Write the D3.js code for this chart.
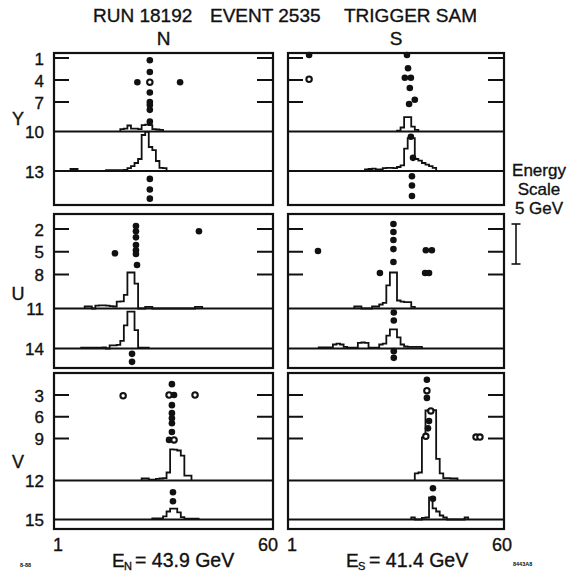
<!DOCTYPE html>
<html>
<head>
<meta charset="utf-8">
<script src="https://cdn.jsdelivr.net/npm/d3@7"></script>
<style>
body { margin: 0; background: #fff; }
svg text { font-family: "Liberation Sans", Arial, sans-serif; fill: #111; stroke: #111; stroke-width: 0.35px; }
svg text.mark { stroke: none; }
</style>
</head>
<body>
<script>
var W = 580, H = 576;

// ---------- data ----------
var header = ["RUN 18192", "EVENT 2535", "TRIGGER SAM"];
var sides = ["N", "S"];
var views = ["Y", "U", "V"];
var firstPlane = [1, 2, 3];          // first tick label of each view
var channelRange = [1, 60];
var energies = ["43.9", "41.4"];
var scaleGeV = 5;

// hits : [channel, plane, hollow]
var hitsYN = [[26.8,1.3],[26.8,2.9],[26.8,4.3,1],[26.8,5.7],[26.8,7.0],[26.8,7.3],[26.8,7.8],[26.8,9.0],
  [23.3,4.3],[35.3,4.3],[26.8,13.6],[26.8,14.4],[26.8,15.1]];
var hitsYS = [[5.8,0.6],[5.8,3.9,1],[33.3,0.6],[33.6,2.4],[32.7,3.7],[34.4,3.7],[34.1,5.1],[35.5,6.7],[33.9,7.2],
  [34.4,10.4],[35.0,12.0],[34.7,13.4],[34.7,14.1],[34.7,14.9]];
var hitsUN = [[22.9,1.6],[22.9,2.3],[22.9,3.1],[22.9,4.1],[22.9,4.8],[22.9,5.3],[23.2,6.75],
  [17.0,5.2],[40.6,2.3],[21.8,14.4],[21.8,15.0]];
var hitsUS = [[29.5,1.35],[29.5,2.4],[29.5,3.45],[29.5,4.65],[29.5,6.35],[8.3,4.9],[25.7,7.8],
  [38.6,4.8],[40.3,4.8],[38.4,7.8],[39.5,7.8],[29.6,11.3],[29.6,11.9],[29.6,14.2],[29.6,14.7]];
var hitsVN = [[33.0,1.5],[32.2,3.0,1],[33.6,3.0],[33.0,4.4],[33.0,5.5],[33.0,6.2],[33.0,6.9],[33.0,8.1],
  [32.2,9.1],[33.6,9.1,1],[19.3,3.1,1],[39.5,3.0,1],[33.3,12.9],[33.3,13.6]];
var hitsVS = [[38.9,0.9],[38.9,2.4,1],[38.9,3.4],[40.0,5.2,1],[39.5,6.6],[39.2,7.6],[38.6,8.7,1],
  [52.7,8.8,1],[53.8,8.8,1],[40.6,12.6],[40.6,13.4]];

// shower energy per channel : [channel, GeV]
var showerYN1 = [[19,.3],[20,.35],[21,.75],[22,.35],[23,.35],[24,.3],[25,.8],[26,.85],[27,.8],[28,.3],[29,.25],[30,.2]];
var showerYN2 = [[5,.25],[6,.25],[15,.12],[16,.12],[17,.12],[18,.12],[19,.12],[20,.15],[21,.35],[22,.6],[23,1.0],
  [24,1.5],[25,4.5],[26,4.9],[27,3.0],[28,2.6],[29,1.25],[30,.4],[31,.35]];
var showerYS1 = [[31,.1],[32,.5],[33,1.8],[34,1.8],[35,.6],[36,.2]];
var showerYS2 = [[22,.2],[23,.25],[24,.3],[25,.2],[26,.2],[27,.35],[28,.4],[29,.4],[30,.35],[31,.5],[32,.7],
  [33,2.8],[34,4.1],[35,4.1],[36,1.5],[37,1.3],[38,1.0],[39,.8],[40,.6],[41,.4]];
var showerUN1 = [[9,.25],[10,.25],[12,.35],[13,.4],[14,.4],[15,.35],[16,.3],[17,.25],[18,.85],[19,.9],[20,1.7],
  [21,4.5],[22,4.5],[23,3.1],[26,.2],[27,.2],[40,.2],[41,.2]];
var showerUN2 = [[8,.12],[9,.12],[10,.12],[11,.12],[12,.12],[13,.12],[14,.15],[16,.4],[17,.4],[18,.45],[19,.95],
  [20,2.9],[21,4.6],[22,4.6],[23,2.3],[24,.12],[25,.12],[26,.12]];
var showerUS1 = [[19,.25],[20,.25],[24,.25],[25,.25],[26,.5],[27,.7],[28,2.9],[29,4.5],[30,4.5],[31,1.0],[32,.85],
  [33,.8],[34,.8],[35,.2]];
var showerUS2 = [[9,.15],[10,.15],[11,.15],[12,.15],[13,.5],[14,.6],[15,.5],[16,.2],[17,.12],[18,.12],[19,.12],
  [20,.7],[21,.75],[22,.7],[23,.12],[24,.12],[25,.12],[26,.5],[27,.6],[28,1.6],[29,2.4],[30,2.4],[31,1.4],[32,.5],
  [33,.25],[34,.2],[35,.2],[36,.2],[37,.2]];
var showerVN1 = [[25,.25],[26,.25],[27,.12],[28,.12],[29,.2],[30,.25],[31,.3],[32,1.0],[33,3.9],[34,3.85],
  [35,3.75],[36,3.1],[37,.6],[38,.6]];
var showerVN2 = [[28,.15],[29,.15],[30,.15],[31,.4],[32,1.0],[33,1.35],[34,1.35],[35,.9],[36,.3],[37,.12],
  [38,.12],[39,.12],[40,.12]];
var showerVS1 = [[36,.9],[37,1.0],[38,5.4],[39,8.75],[40,8.75],[41,8.8],[42,2.7],[43,.9],[44,.3],[45,.3],
  [46,.25],[47,.25]];
var showerVS2 = [[35,.25],[38,.2],[39,.25],[40,2.75],[41,1.4],[42,1.0],[43,.5],[44,.25],[50,.25]];

var hits = [[hitsYN, hitsYS], [hitsUN, hitsUS], [hitsVN, hitsVS]];
var showers = [[[showerYN1, showerYN2], [showerYS1, showerYS2]],
               [[showerUN1, showerUN2], [showerUS1, showerUS2]],
               [[showerVN1, showerVN2], [showerVS1, showerVS2]]];

// ---------- layout ----------
var colX = [[54, 273], [288, 504]];
var rowY = [[53, 205], [214, 368], [373, 529]];
// pixel rows for planes p0, p0+6, p0+9, p0+12
var rowPlanes = [[58, 102, 131.5, 171], [229, 274.5, 308.5, 348.5], [395, 438.5, 480.5, 519.5]];
var ink = '#111';

var svg = d3.select('body').append('svg')
  .attr('width', W)
  .attr('height', H);

// energy -> bar height in px (5 GeV = 40 px)
var eScale = d3.scaleLinear().domain([0, scaleGeV]).range([0, 40]);

function stepPoints(sh, x, base) {
  var m = new Map(sh);
  var c0 = d3.min(sh, function(d){ return d[0]; });
  var c1 = d3.max(sh, function(d){ return d[0]; });
  var pts = [[x(c0 - .5), base]];
  for (var c = c0; c <= c1; c++) {
    var h = base - eScale(m.get(c) || 0);
    pts.push([x(c - .5), h], [x(c + .5), h]);
  }
  pts.push([x(c1 + .5), base]);
  return pts;
}

// header
var headX = [93, 210, 344];
header.forEach(function(t, i) {
  svg.append('text').attr('x', headX[i]).attr('y', 22)
    .attr('font-size', 19).text(t);
});

sides.forEach(function(s, c) {
  svg.append('text')
    .attr('x', (colX[c][0] + colX[c][1]) / 2).attr('y', 45)
    .attr('text-anchor', 'middle').attr('font-size', 19).text(s);
});

views.forEach(function(v, r) {
  var p0 = firstPlane[r];
  var y = d3.scaleLinear().domain([p0, p0 + 6, p0 + 9, p0 + 12]).range(rowPlanes[r]);

  // view letter and plane labels on the left
  svg.append('text').attr('x', 18)
    .attr('y', (y(p0 + 6) + y(p0 + 9)) / 2 + 8)
    .attr('text-anchor', 'middle').attr('font-size', 18).text(v);
  [p0, p0 + 3, p0 + 6, p0 + 9, p0 + 12].forEach(function(t) {
    svg.append('text').attr('x', 44).attr('y', y(t) + 6.5)
      .attr('text-anchor', 'end').attr('font-size', 17).text(t);
  });

  sides.forEach(function(s, c) {
    var x = d3.scaleLinear().domain(channelRange).range([colX[c][0] + 4, colX[c][0] + 214]);
    var g = svg.append('g');
    var x0 = colX[c][0], x1 = colX[c][1];

    // short ticks both sides
    [p0, p0 + 3, p0 + 6].forEach(function(t) {
      g.append('line').attr('x1', x0).attr('x2', x0 + 15).attr('y1', y(t)).attr('y2', y(t))
        .attr('stroke', ink).attr('stroke-width', 2);
      g.append('line').attr('x1', x1 - 16).attr('x2', x1).attr('y1', y(t)).attr('y2', y(t))
        .attr('stroke', ink).attr('stroke-width', 2);
    });
    // baselines of the shower planes
    [p0 + 9, p0 + 12].forEach(function(t) {
      g.append('line').attr('x1', x0).attr('x2', x1).attr('y1', y(t)).attr('y2', y(t))
        .attr('stroke', ink).attr('stroke-width', 2);
    });

    showers[r][c].forEach(function(sh, k) {
      g.append('path')
        .attr('d', d3.line()(stepPoints(sh, x, y(p0 + 9 + 3 * k))))
        .attr('fill', 'none').attr('stroke', ink).attr('stroke-width', 1.8);
    });

    g.selectAll('circle').data(hits[r][c]).enter().append('circle')
      .attr('cx', function(d){ return x(d[0]); })
      .attr('cy', function(d){ return y(d[1]); })
      .attr('r', function(d){ return d[2] ? 2.7 : 3.3; })
      .attr('fill', function(d){ return d[2] ? '#fff' : ink; })
      .attr('stroke', ink)
      .attr('stroke-width', function(d){ return d[2] ? 2.1 : 0; });

    g.append('rect').attr('x', x0).attr('y', rowY[r][0])
      .attr('width', x1 - x0).attr('height', rowY[r][1] - rowY[r][0])
      .attr('fill', 'none').attr('stroke', ink).attr('stroke-width', 2.2);

    // channel range labels + energy under bottom row
    if (r === views.length - 1) {
      channelRange.forEach(function(ch) {
        g.append('text').attr('x', x(ch)).attr('y', 551)
          .attr('text-anchor', 'middle').attr('font-size', 18).text(ch);
      });
      var tx = x0 + 58;
      g.append('text').attr('x', tx).attr('y', 567).attr('font-size', 19).text('E');
      g.append('text').attr('x', tx + 12).attr('y', 570).attr('font-size', 11).text(s);
      g.append('text').attr('x', tx + 23).attr('y', 567).attr('font-size', 19.5)
        .text('= ' + energies[c] + ' GeV');
    }
  });
});

// energy scale key
['Energy', 'Scale', '5 GeV'].forEach(function(t, i) {
  svg.append('text').attr('x', 539).attr('y', [176, 195, 214][i])
    .attr('text-anchor', 'middle').attr('font-size', 17).text(t);
});
var kTop = 224;
svg.append('line').attr('x1', 516).attr('x2', 516).attr('y1', kTop).attr('y2', kTop + eScale(scaleGeV))
  .attr('stroke', ink).attr('stroke-width', 1.6);
[kTop, kTop + eScale(scaleGeV)].forEach(function(yy) {
  svg.append('line').attr('x1', 511.5).attr('x2', 520.5).attr('y1', yy).attr('y2', yy)
    .attr('stroke', ink).attr('stroke-width', 1.6);
});

// tiny figure marks
svg.append('text').attr('class', 'mark').attr('x', 20).attr('y', 567).attr('font-size', 5.5)
  .attr('font-weight', 'bold').text('8-88');
svg.append('text').attr('class', 'mark').attr('x', 513).attr('y', 566).attr('font-size', 5.5)
  .attr('font-weight', 'bold').text('8443A8');
</script>
</body>
</html>
